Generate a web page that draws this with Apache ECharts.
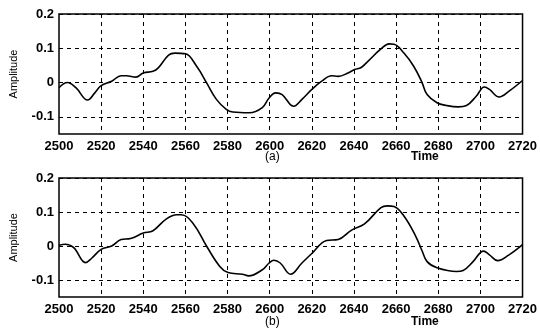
<!DOCTYPE html>
<html>
<head>
  <meta charset="UTF-8">
  <title>Amplitude vs Time</title>
  <style>
    * { margin: 0; padding: 0; }
    html, body { width: 540px; height: 329px; background: #fff; }
    #chart { width: 540px; height: 329px; }
  </style>
</head>
<body>
  <div id="chart"></div>
  <script src="https://cdn.jsdelivr.net/npm/echarts@6/dist/echarts.min.js"></script>
  <script>
    // data
    const timeA = [2500, 2504, 2508, 2513.6, 2517, 2520, 2525, 2529.5, 2532, 2536.5, 2540, 2544.6, 2547, 2552, 2555, 2560,
      2565.4, 2570, 2574.7, 2579.4, 2582.5, 2590.3, 2596.5, 2599.7, 2602.8, 2605.9, 2611.4, 2615.3, 2620, 2624.7,
      2629.4, 2632.5, 2637.2, 2640.3, 2643.4, 2646.6, 2652.8, 2656.7, 2659, 2663.7, 2668.4, 2672.3, 2674.7, 2679.4,
      2684, 2689.5, 2693.4, 2698, 2701.9, 2704.3, 2708.9, 2713.6, 2720];
    const ampA = [-0.015, 0.0, -0.015, -0.051, -0.03, -0.009, 0.004, 0.02, 0.02, 0.016, 0.028, 0.033, 0.042, 0.08, 0.086, 0.084,
      0.047, 0.0, -0.049, -0.078, -0.086, -0.088, -0.073, -0.045, -0.03, -0.035, -0.069, -0.049, -0.02, 0.004,
      0.02, 0.018, 0.028, 0.038, 0.044, 0.062, 0.098, 0.113, 0.112, 0.086, 0.047, 0.0, -0.035, -0.059,
      -0.067, -0.071, -0.067, -0.04, -0.013, -0.02, -0.042, -0.025, 0.006];

    const timeB = [2500, 2503, 2507, 2512.6, 2515.5, 2520, 2525, 2529.5, 2534, 2540, 2544.6, 2551, 2556, 2558, 2563.8,
      2570, 2576.3, 2580.2, 2587, 2590, 2596.5, 2599.7, 2602, 2605, 2609.9, 2615.3, 2620, 2627, 2632.5, 2638.7,
      2645, 2652.8, 2655.9, 2659, 2663.7, 2669.2, 2672.3, 2674.7, 2679.4, 2688.7, 2691.8, 2696.5, 2701.5, 2704.3,
      2708.2, 2713.6, 2720];
    const ampB = [0.002, 0.005, -0.005, -0.049, -0.036, -0.01, 0.0, 0.019, 0.022, 0.038, 0.045, 0.08, 0.092, 0.092, 0.065,
      0.0, -0.06, -0.078, -0.083, -0.088, -0.07, -0.05, -0.042, -0.05, -0.083, -0.05, -0.022, 0.016, 0.019, 0.046,
      0.065, 0.113, 0.118, 0.116, 0.088, 0.03, -0.014, -0.046, -0.064, -0.075, -0.072, -0.046, -0.015, -0.026,
      -0.043, -0.026, 0.004];

    const panelLabels = ['(a)', '(b)'];

    const chart = echarts.init(document.getElementById('chart'));
    const font = 'Liberation Sans';

    function pairs(xs, ys) { return xs.map((x, i) => [x, ys[i]]); }

    const grids = [
      { left: 57, top: 14, width: 470, height: 120 },
      { left: 57, top: 178, width: 470, height: 119 }
    ];

    const xAxes = grids.map((g, i) => ({
      type: 'value', gridIndex: i, min: 2500, max: 2720, interval: 20,
      axisLine: { show: false }, axisTick: { show: false },
      axisLabel: { color: '#000', fontFamily: font, fontWeight: 'bold', fontSize: 13, margin: 6, formatter: v => String(v) },
      splitLine: { show: true, lineStyle: { color: ['transparent', '#000', '#000', '#000', '#000', '#000', '#000', '#000', '#000', '#000', '#000', 'transparent'], type: [4, 4], width: 1 } }
    }));

    const yAxes = grids.map((g, i) => ({
      type: 'value', gridIndex: i, min: -0.15, max: 0.2, interval: 0.05,
      name: 'Amplitude', nameLocation: 'middle', nameGap: 40, nameRotate: 90,
      nameTextStyle: { color: '#000', fontFamily: font, fontSize: 11 },
      axisLine: { show: false }, axisTick: { show: false },
      axisLabel: {
        color: '#000', fontFamily: font, fontWeight: 'bold', fontSize: 13, margin: 5,
        formatter: v => {
          const r = Math.round(v * 100);
          if (r % 10 !== 0 || r === -15) return '';
          return r === 0 ? '0' : (r / 100).toFixed(1);
        }
      },
      splitLine: { show: true, lineStyle: { color: ['transparent', '#000'], type: [4, 4], width: 1 } }
    }));

    const option = {
      backgroundColor: '#fff',
      animation: false,
      grid: grids.map(g => Object.assign({ show: true, borderColor: '#000', borderWidth: 1.5, backgroundColor: 'transparent' }, g)),
      xAxis: xAxes,
      yAxis: yAxes,
      series: [
        { type: 'line', xAxisIndex: 0, yAxisIndex: 0, data: pairs(timeA, ampA), smooth: 0.4, symbol: 'none',
          lineStyle: { color: '#000', width: 1.6 } },
        { type: 'line', xAxisIndex: 1, yAxisIndex: 1, data: pairs(timeB, ampB), smooth: 0.4, symbol: 'none',
          lineStyle: { color: '#000', width: 1.6 } }
      ],
      graphic: [
        { type: 'text', left: 265, top: 151, style: { text: panelLabels[0], fill: '#000', font: '12px "Liberation Sans"' } },
        { type: 'text', left: 411, top: 151, style: { text: 'Time', fill: '#000', font: 'bold 12px "Liberation Sans"' } },
        { type: 'text', left: 265, top: 316, style: { text: panelLabels[1], fill: '#000', font: '12px "Liberation Sans"' } },
        { type: 'text', left: 411, top: 316, style: { text: 'Time', fill: '#000', font: 'bold 12px "Liberation Sans"' } }
      ]
    };

    chart.setOption(option);
  </script>
</body>
</html>
